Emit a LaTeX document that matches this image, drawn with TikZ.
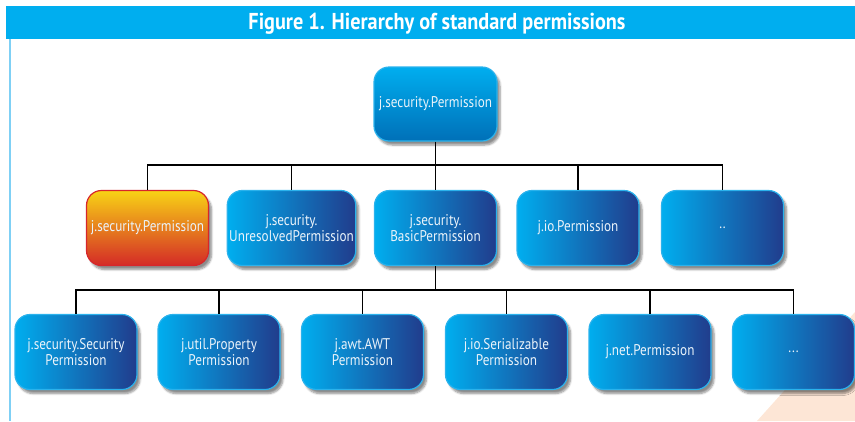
\documentclass[tikz,border=0pt]{standalone}
\usepackage{fontspec}
\setmainfont{PT Sans}[FakeStretch=0.85]
\newfontfamily\titlefont{PT Sans}[FakeStretch=0.88]
\usetikzlibrary{shadows.blur}
\definecolor{titlecyan}{HTML}{00AEEF}
\definecolor{framecyan}{HTML}{7FD0F5}
\definecolor{gl}{HTML}{00AEEF}
\definecolor{gm}{HTML}{0072BA}
\definecolor{gr}{HTML}{213C8C}
\definecolor{tt}{HTML}{00AEEF}
\definecolor{tm}{HTML}{00A6E6}
\definecolor{tb}{HTML}{0070B8}
\definecolor{oy}{HTML}{F8D315}
\definecolor{om}{HTML}{EE8A25}
\definecolor{orr}{HTML}{D42A27}
\definecolor{boxedge}{HTML}{2BB2EC}
\definecolor{rededge}{HTML}{D7262B}
\definecolor{boxtext}{HTML}{EAF3FA}
\definecolor{peach}{HTML}{FDE6D6}
\begin{document}
\begin{tikzpicture}[x=1pt,y=-1pt,
  box/.style={rounded corners=15pt, minimum width=122pt, minimum height=75pt,
    inner sep=2pt, align=center, text=boxtext,
    font=\fontsize{15.5}{16.7}\selectfont, draw=boxedge, line width=1.2pt,
    blur shadow={shadow xshift=3pt, shadow yshift=-4pt, shadow blur steps=6, shadow opacity=45}},
  bluebox/.style={box, left color=gl, middle color=gm, right color=gr},
  topbox/.style={box, top color=tt, middle color=tm, bottom color=tb},
  redbox/.style={box, top color=oy, middle color=om, bottom color=orr, draw=rededge},
  link/.style={draw=black, line width=1.3pt}]
\useasboundingbox (0,0) rectangle (855,421);
% background
\fill[peach] (757,421) -- (855,312) -- (855,421) -- cycle;
\fill[titlecyan] (6,6) rectangle (855,39);
\draw[framecyan, line width=1.6pt] (10,39) -- (10,421);
\node[anchor=base, inner sep=0pt, font=\titlefont\bfseries\fontsize{23}{26}\selectfont, text=white] (title) at (437,29) {Figure 1. Hierarchy of standard permissions};
% nodes
\node[topbox, minimum width=123pt, minimum height=74pt] (top) at (435.5,104) {j.security.Permission};
\node[redbox] (m1) at (147.5,228) {j.security.Permission};
\node[bluebox] (m2) at (291.5,228) {j.security.\\UnresolvedPermission};
\node[bluebox] (m3) at (435.5,228) {j.security.\\BasicPermission};
\node[bluebox] (m4) at (578,228) {j.io.Permission};
\node[bluebox] (m5) at (722.5,228) {..};
\node[bluebox] (b1) at (76,352) {j.security.Security\\Permission};
\node[bluebox] (b2) at (219,352) {j.util.Property\\Permission};
\node[bluebox] (b3) at (362.5,352) {j.awt.AWT\\Permission};
\node[bluebox] (b4) at (506.5,352) {j.io.Serializable\\Permission};
\node[bluebox] (b5) at (650,352) {j.net.Permission};
\node[bluebox] (b6) at (793.5,352) {...};
% connectors
\coordinate (barM) at (435.5,165);
\coordinate (barB) at (435.5,290);
\draw[link] (top.south) -- (m3.north);
\draw[link] (m1.north) |- (barM) -| (m5.north);
\draw[link] (m2.north) -- (m2.north |- barM);
\draw[link] (m4.north) -- (m4.north |- barM);
\draw[link] (m3.south) -- (barB);
\draw[link] (b1.north) |- (barB) -| (b6.north);
\draw[link] (b2.north) -- (b2.north |- barB);
\draw[link] (b3.north) -- (b3.north |- barB);
\draw[link] (b4.north) -- (b4.north |- barB);
\draw[link] (b5.north) -- (b5.north |- barB);
\end{tikzpicture}
\end{document}
